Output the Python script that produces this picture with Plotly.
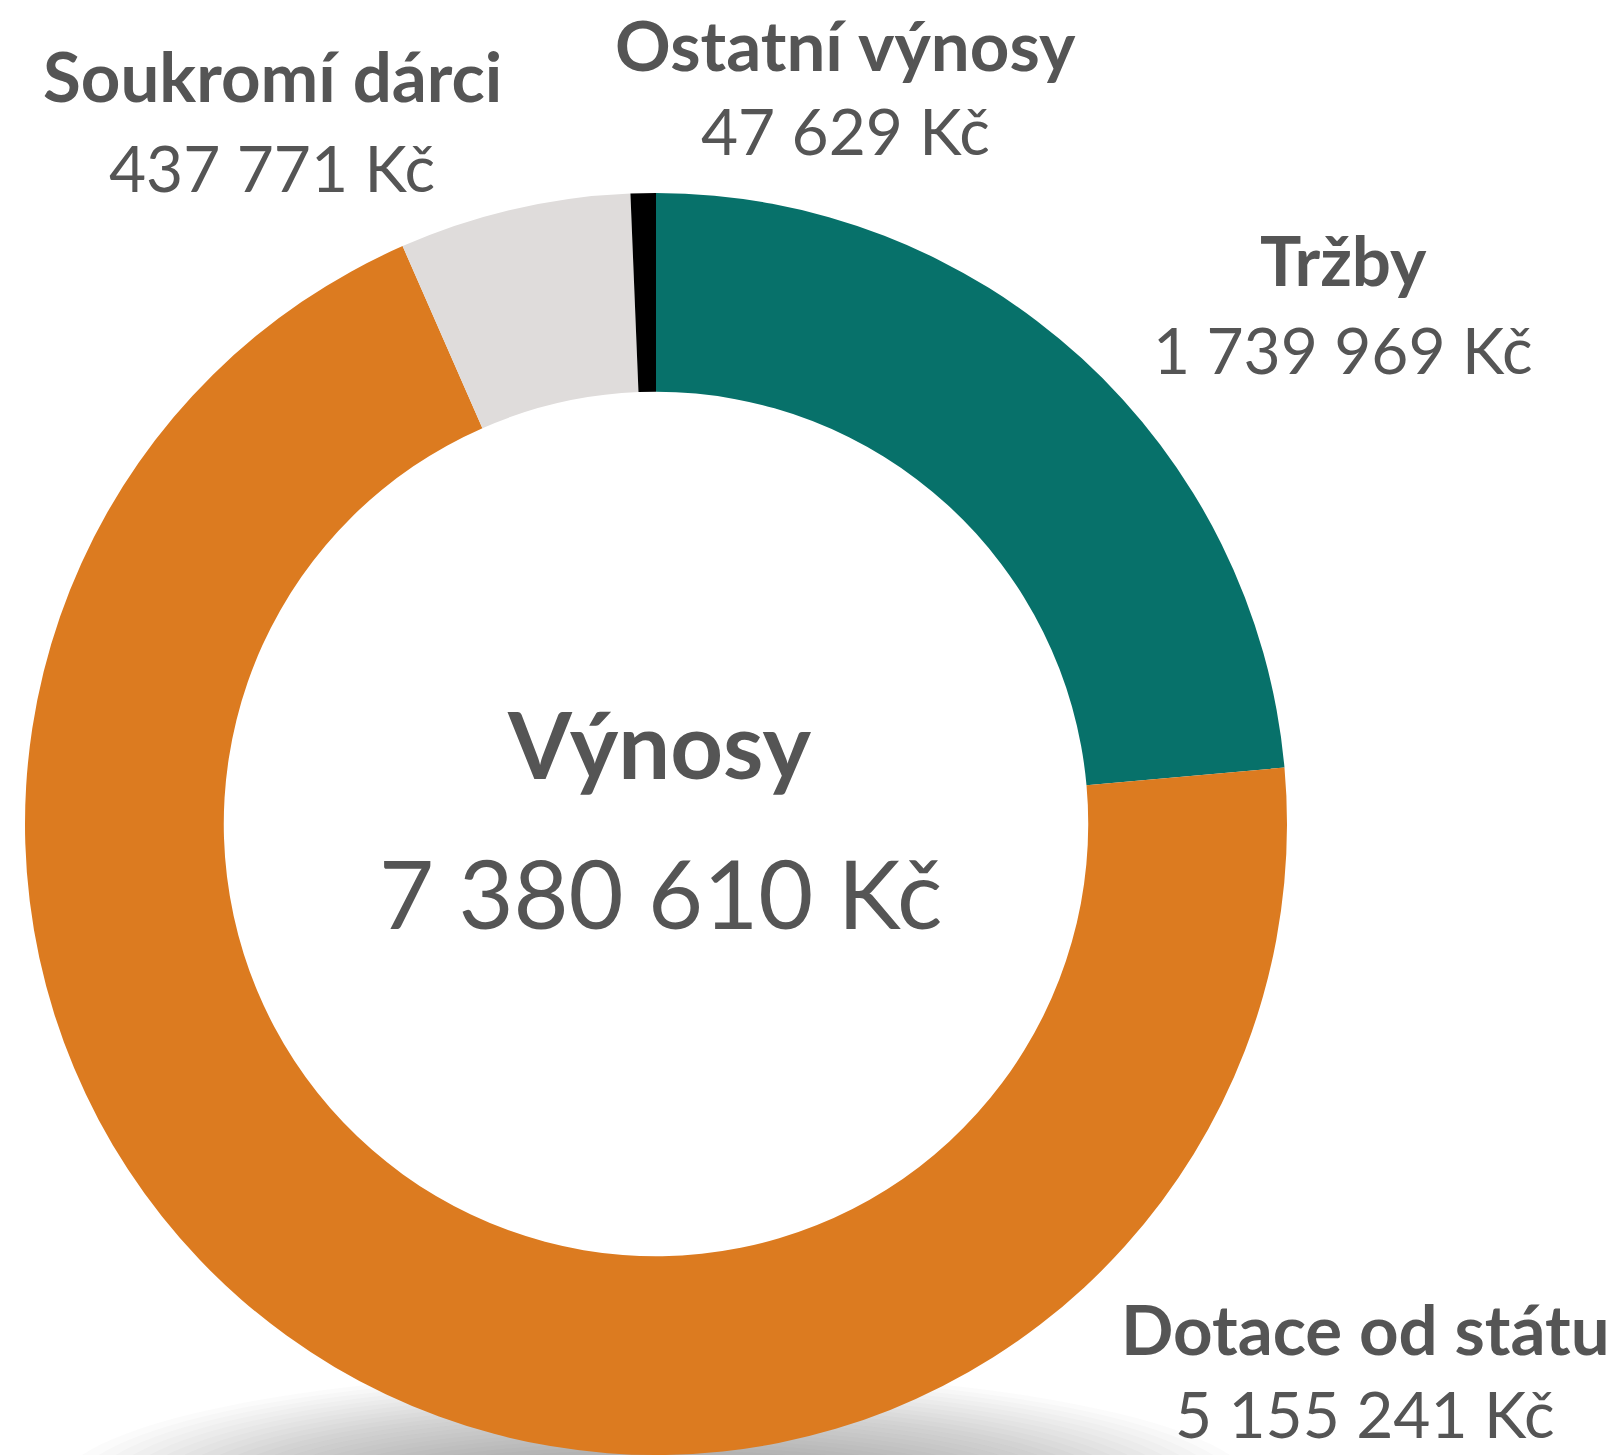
import plotly.graph_objects as go

# ---- data ----
categories = ["Tržby", "Dotace od státu", "Soukromí dárci", "Ostatní výnosy"]
values = [1739969, 5155241, 437771, 47629]
value_labels = ["1 739 969 Kč", "5 155 241 Kč", "437 771 Kč", "47 629 Kč"]
total_title = "Výnosy"
total_label = "7 380 610 Kč"

colors = ["#07716A", "#DC7B20", "#DFDCDB", "#000000"]
TEXT = "#555555"
FONT = "Lato"

W, H = 1622, 1455
CX, CY, R = 656, 824, 631


def px(x, y):
    return x / W, 1 - y / H


fig = go.Figure()
fig.add_trace(go.Pie(
    labels=categories,
    values=values,
    sort=False,
    direction="clockwise",
    rotation=0,
    hole=0.685,
    marker=dict(colors=colors, line=dict(width=0)),
    textinfo="none",
    hoverinfo="label+value",
    showlegend=False,
    domain=dict(x=[(CX - R) / W, (CX + R) / W], y=[0, 2 * R / H]),
))

# soft shadow under the ring
shapes = []
n = 22
for i in range(n):
    f = i / (n - 1)
    rx = 600 - 330 * f
    ry = 120 - 80 * f
    sx, sy = CX, 1490
    x0, y0 = px(sx - rx, sy - ry)
    x1, y1 = px(sx + rx, sy + ry)
    shapes.append(dict(type="circle", xref="paper", yref="paper",
                       x0=x0, x1=x1, y0=y1, y1=y0,
                       fillcolor="rgba(80,80,80,0.022)", line=dict(width=0),
                       layer="below"))

# label positions (pixel centres of name / value lines)
label_pos = {
    "Tržby": (1343, 259, 349),
    "Dotace od státu": (1365, 1328, 1413),
    "Soukromí dárci": (272, 75, 167),
    "Ostatní výnosy": (845, 44, 130),
}

ann = []
for cat, vl in zip(categories, value_labels):
    x, y1, y2 = label_pos[cat]
    ax, ay = px(x, y1)
    ann.append(dict(x=ax, y=ay, xref="paper", yref="paper", text="<b>" + cat + "</b>",
                    showarrow=False, xanchor="center", yanchor="middle",
                    font=dict(family=FONT, size=69, color=TEXT)))
    ax, ay = px(x, y2)
    ann.append(dict(x=ax, y=ay, xref="paper", yref="paper", text=vl,
                    showarrow=False, xanchor="center", yanchor="middle",
                    font=dict(family=FONT, size=64, color=TEXT)))

ax, ay = px(659, 743)
ann.append(dict(x=ax, y=ay, xref="paper", yref="paper", text="<b>" + total_title + "</b>",
                showarrow=False, xanchor="center", yanchor="middle",
                font=dict(family=FONT, size=92, color=TEXT)))
ax, ay = px(660, 892)
ann.append(dict(x=ax, y=ay, xref="paper", yref="paper", text=total_label,
                showarrow=False, xanchor="center", yanchor="middle",
                font=dict(family=FONT, size=95, color=TEXT)))

fig.update_layout(
    width=W, height=H,
    margin=dict(l=0, r=0, t=0, b=0),
    paper_bgcolor="white", plot_bgcolor="white",
    shapes=shapes, annotations=ann,
    font=dict(family=FONT, color=TEXT),
)

fig.write_html("out.html", config={"displayModeBar": False},
               post_script="document.body.style.margin='0px';")
